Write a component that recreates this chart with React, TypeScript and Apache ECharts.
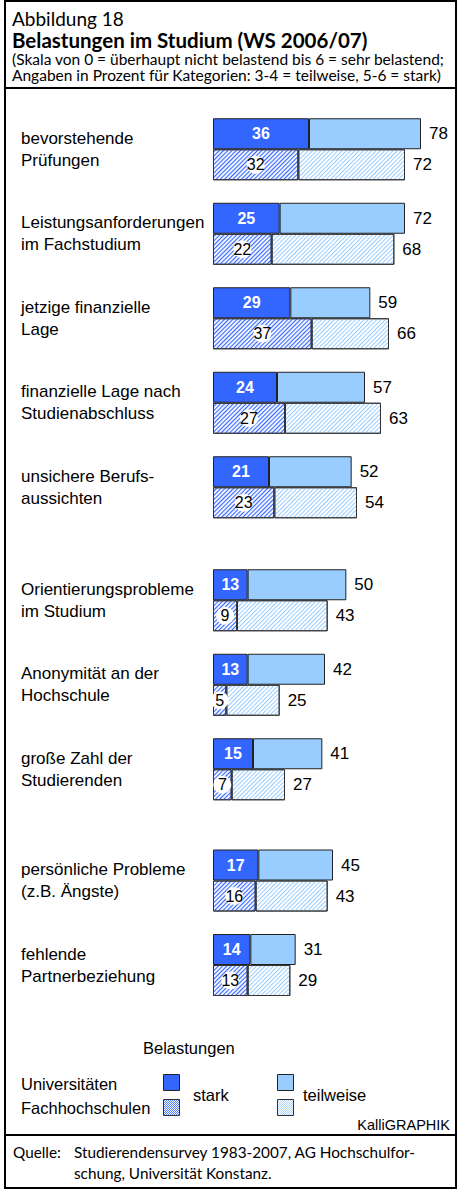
import React, { useEffect, useRef } from "react";
import * as echarts from "echarts";

const categories = [
  "bevorstehende\nPrüfungen",
  "Leistungsanforderungen\nim Fachstudium",
  "jetzige finanzielle\nLage",
  "finanzielle Lage nach\nStudienabschluss",
  "unsichere Berufs-\naussichten",
  "Orientierungsprobleme\nim Studium",
  "Anonymität an der\nHochschule",
  "große Zahl der\nStudierenden",
  "persönliche Probleme\n(z.B. Ängste)",
  "fehlende\nPartnerbeziehung",
];
// stark (5-6) and stark + teilweise (3-6), in percent
const uniStark = [36, 25, 29, 24, 21, 13, 13, 15, 17, 14];
const uniTotal = [78, 72, 59, 57, 52, 50, 42, 41, 45, 31];
const fhStark = [32, 22, 37, 27, 23, 9, 5, 7, 16, 13];
const fhTotal = [72, 68, 66, 63, 54, 43, 25, 27, 43, 29];
// groups of categories (start, end)
const clusters = [
  [0, 5],
  [5, 8],
  [8, 10],
];

const SANS = "'Liberation Sans', Arial, Helvetica, sans-serif";
const HEAD = "Lato, 'Open Sans', sans-serif";
const DARK = "#3366ff";
const LIGHT = "#99ccff";

function hatchLines(x0: number, y0: number, w: number, h: number, color: string) {
  const els: any[] = [];
  for (let c = -h; c < w; c += 2) {
    const t0 = Math.max(0, -c);
    const t1 = Math.min(h, w - c);
    if (t1 <= t0) continue;
    els.push({
      type: "line",
      shape: { x1: x0 + c + t0, y1: y0 + h - t0, x2: x0 + c + t1, y2: y0 + h - t1 },
      style: { stroke: color, lineWidth: 0.8 },
    });
  }
  return els;
}

export default function App() {
  const ref = useRef<HTMLDivElement>(null);
  useEffect(() => {
    if (!ref.current) return;
    const chart = echarts.init(ref.current, undefined, { renderer: "svg" });
    const gridTops = [107, 558, 838.25];
    const band = 84.5;
    const grids: any[] = [];
    const xAxes: any[] = [];
    const yAxes: any[] = [];
    const series: any[] = [];
    clusters.forEach(([a, b], g) => {
      grids.push({ left: 213, width: 240, top: gridTops[g], height: band * (b - a) });
      xAxes.push({ type: "value", gridIndex: g, min: 0, max: 90, show: false });
      yAxes.push({
        type: "category",
        gridIndex: g,
        inverse: true,
        data: categories.slice(a, b),
        axisLine: { show: false },
        axisTick: { show: false },
        splitLine: { show: false },
        axisLabel: {
          margin: 192,
          align: "left",
          fontSize: 17,
          lineHeight: 22,
          color: "#000",
          fontFamily: SANS,
        },
      });
      const base = {
        type: "bar",
        xAxisIndex: g,
        yAxisIndex: g,
        barWidth: 31,
        barGap: "0%",
      };
      const hatch = (color: string) => ({
        symbol: "rect",
        symbolSize: 1,
        color,
        dashArrayX: [1, 0],
        dashArrayY: [1, 1.6],
        rotation: -Math.PI / 4,
      });
      series.push({
        ...base,
        stack: "uni" + g,
        data: uniStark.slice(a, b),
        itemStyle: { color: DARK, borderColor: "#222", borderWidth: 1 },
        label: {
          show: true,
          position: "inside",
          color: "#fff",
          fontWeight: "bold",
          fontSize: 16,
          fontFamily: SANS,
        },
      });
      series.push({
        ...base,
        stack: "uni" + g,
        data: uniTotal.slice(a, b).map((t, i) => t - uniStark[a + i]),
        itemStyle: { color: LIGHT, borderColor: "#222", borderWidth: 1 },
        label: {
          show: true,
          position: "right",
          distance: 8,
          color: "#000",
          fontSize: 17,
          fontFamily: SANS,
          formatter: (p: any) => String(uniTotal[a + p.dataIndex]),
        },
      });
      series.push({
        ...base,
        stack: "fh" + g,
        data: fhStark.slice(a, b),
        itemStyle: { color: "#eef2ff", borderColor: "#333", borderWidth: 1, decal: hatch(DARK) },
        label: {
          show: true,
          position: "inside",
          color: "#000",
          fontSize: 16,
          fontFamily: SANS,
          backgroundColor: "#fff",
          borderRadius: 9,
          width: 18,
          height: 18,
          lineHeight: 18,
          align: "center",
        },
      });
      series.push({
        ...base,
        stack: "fh" + g,
        data: fhTotal.slice(a, b).map((t, i) => t - fhStark[a + i]),
        itemStyle: { color: "#ffffff", borderColor: "#333", borderWidth: 1, decal: hatch(LIGHT) },
        label: {
          show: true,
          position: "right",
          distance: 8,
          color: "#000",
          fontSize: 17,
          fontFamily: SANS,
          formatter: (p: any) => String(fhTotal[a + p.dataIndex]),
        },
      });
    });

    const txt = (x: number, y: number, text: string, font: any, align = "left") => ({
      type: "text",
      x,
      y,
      style: { text, fill: "#000", align, verticalAlign: "middle", ...font },
    });

    const graphic: any[] = [
      {
        type: "rect",
        shape: { x: 5, y: 1, width: 451, height: 1187 },
        style: { fill: "none", stroke: "#000", lineWidth: 2 },
        z: 10,
      },
      { type: "line", shape: { x1: 5, y1: 88, x2: 456, y2: 88 }, style: { stroke: "#000", lineWidth: 2 }, z: 10 },
      { type: "line", shape: { x1: 5, y1: 1135, x2: 456, y2: 1135 }, style: { stroke: "#000", lineWidth: 2 }, z: 10 },
      txt(12, 18, "Abbildung 18", { fontSize: 19, fontFamily: HEAD }),
      txt(12, 39.5, "Belastungen im Studium (WS 2006/07)", { fontSize: 20.5, fontWeight: "bold", fontFamily: HEAD }),
      txt(12, 58.5, "(Skala von 0 = überhaupt nicht belastend bis 6 = sehr belastend;", { fontSize: 15.5, fontFamily: HEAD }),
      txt(12, 75, "Angaben in Prozent für Kategorien: 3-4 = teilweise, 5-6 = stark)", { fontSize: 15.5, fontFamily: HEAD }),
      txt(143, 1048, "Belastungen", { fontSize: 16.5, fontFamily: SANS }),
      txt(21, 1084, "Universitäten", { fontSize: 16.5, fontFamily: SANS }),
      txt(21, 1108, "Fachhochschulen", { fontSize: 16.5, fontFamily: SANS }),
      txt(193, 1095, "stark", { fontSize: 16.5, fontFamily: SANS }),
      txt(303, 1095, "teilweise", { fontSize: 16.5, fontFamily: SANS }),
      txt(450, 1125, "KalliGRAPHIK", { fontSize: 14.5, fontFamily: SANS }, "right"),
      txt(13, 1152, "Quelle:", { fontSize: 15.3, fontFamily: HEAD }),
      txt(74, 1152, "Studierendensurvey 1983-2007, AG Hochschulfor-", { fontSize: 15.3, fontFamily: HEAD }),
      txt(74, 1173, "schung, Universität Konstanz.", { fontSize: 15.3, fontFamily: HEAD }),
      {
        type: "rect",
        shape: { x: 163.5, y: 1074.5, width: 16, height: 16 },
        style: { fill: DARK, stroke: "#222", lineWidth: 1 },
      },
      {
        type: "rect",
        shape: { x: 277.5, y: 1074.5, width: 16, height: 16 },
        style: { fill: LIGHT, stroke: "#222", lineWidth: 1 },
      },
      {
        type: "group",
        children: [
          { type: "rect", shape: { x: 163.5, y: 1099.5, width: 16, height: 16 }, style: { fill: "#eef2ff" } },
          ...hatchLines(163.5, 1099.5, 16, 16, DARK),
          {
            type: "rect",
            shape: { x: 163.5, y: 1099.5, width: 16, height: 16 },
            style: { fill: "none", stroke: "#333", lineWidth: 1 },
          },
        ],
      },
      {
        type: "group",
        children: [
          { type: "rect", shape: { x: 277.5, y: 1099.5, width: 16, height: 16 }, style: { fill: "#fff" } },
          ...hatchLines(277.5, 1099.5, 16, 16, LIGHT),
          {
            type: "rect",
            shape: { x: 277.5, y: 1099.5, width: 16, height: 16 },
            style: { fill: "none", stroke: "#333", lineWidth: 1 },
          },
        ],
      },
    ];

    chart.setOption({
      animation: false,
      backgroundColor: "#fff",
      grid: grids,
      xAxis: xAxes,
      yAxis: yAxes,
      series,
      graphic,
    });
    return () => chart.dispose();
  }, []);
  return (
    <div
      ref={ref}
      style={{ position: "absolute", left: 0, top: 0, width: 459, height: 1189 }}
    />
  );
}
